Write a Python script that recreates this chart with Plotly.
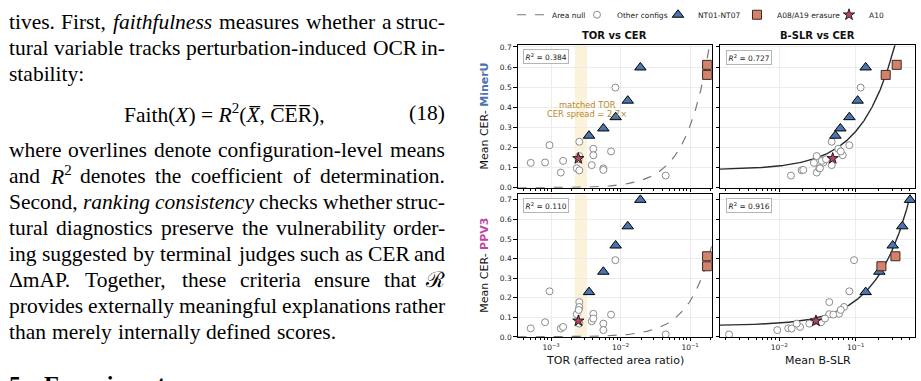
import numpy as np
import plotly.graph_objects as go

W, H = 921, 381

# ---------------- data ----------------
# "Other configs" (shared TOR, engine-specific CER and B-SLR)
tor_other = [0.00051, 0.00082, 0.00095, 0.00138, 0.00149, 0.00234, 0.00255, 0.00255, 0.00255,
             0.00385, 0.00406, 0.00406, 0.00566, 0.00566, 0.0073, 0.00843, 0.0447, 0.00250]
cer_mineru_other = [0.124, 0.126, 0.212, 0.076, 0.134, 0.097, 0.229, 0.158, 0.087,
                    0.113, 0.194, 0.162, 0.097, 0.089, 0.181, 0.498, 0.061, 0.142]
cer_ppv3_other = [0.044, 0.075, 0.233, 0.043, 0.051, 0.116, 0.178, 0.153, 0.068,
                  0.080, 0.118, 0.094, 0.068, 0.035, 0.114, 0.392, 0.013, 0.138]
bslr_mineru_other = [0.0284, 0.0377, 0.0825, 0.0309, 0.0359, 0.0334, 0.0485, 0.0309, 0.0196,
                     0.0485, 0.0592, 0.0676, 0.0340, 0.0206, 0.0637, 0.116, 0.0142, 0.0409]
bslr_ppv3_other = [0.0131, 0.0352, 0.0825, 0.0145, 0.0187, 0.0451, 0.0451, 0.0703, 0.0169,
                   0.0290, 0.0604, 0.0396, 0.0247, 0.0094, 0.0509, 0.0950, 0.0022, 0.0637]

# NT01-NT07
tor_nt = [0.00352, 0.00566, 0.0085, 0.0127, 0.0193]
cer_mineru_nt = [0.259, 0.295, 0.351, 0.433, 0.598]
cer_ppv3_nt = [0.229, 0.333, 0.467, 0.565, 0.700]
bslr_mineru_nt = [0.0542, 0.0630, 0.0826, 0.106, 0.135]
bslr_ppv3_nt = [0.135, 0.204, 0.305, 0.407, 0.514]

# A08/A19 erasure
tor_er = [0.176, 0.176]
cer_mineru_er = [0.611, 0.561]
cer_ppv3_er = [0.412, 0.361]
bslr_mineru_er = [0.344, 0.247]
bslr_ppv3_er = [0.331, 0.217]

# A10
tor_a10 = [0.00247]
cer_mineru_a10 = [0.146]
cer_ppv3_a10 = [0.082]
bslr_mineru_a10 = [0.050]
bslr_ppv3_a10 = [0.0302]

# model curves / stats
null_coef = {"MinerU": (6.1, 1.3), "PPV3": (3.64, 1.3)}       # area null: CER = c * TOR^p
fit_coef = {"MinerU": (0.09, 1.9), "PPV3": (0.058, 1.28)}    # CER = a + b * B-SLR
r2_tor = {"MinerU": "0.384", "PPV3": "0.110"}
r2_bslr = {"MinerU": "0.727", "PPV3": "0.916"}
tor_band = [0.0022, 0.0033]
ytick_vals = [0, 0.1, 0.2, 0.3, 0.4, 0.5, 0.6, 0.7]

# ---------------- styling ----------------
C_TRI = "#4a76b0"
C_SQ = "#d6826a"
C_STAR = "#b5475c"
C_MINERU = "#4c72b0"
C_PPV3 = "#c2469f"
C_ANN = "#b8862b"
SANS = "DejaVu Sans"
SERIF = "Liberation Serif"

XL = (517.7, 711.7)
XR = (720.0, 915.0)
YT = (42.3, 188.3)
YB = (195.0, 341.0)
xr_tor = [-3.48, -0.688]
xr_bslr = [-2.776, -0.224]
yr = {"MinerU": [0, 0.708], "PPV3": [0, 0.728]}


def px(x):
    return x / W


def py(y):
    return 1 - y / H


def dom_x(a):
    return [a[0] / W, a[1] / W]


def dom_y(a):
    return [1 - a[1] / H, 1 - a[0] / H]


fig = go.Figure()

data = {
    "MinerU": dict(cer_o=cer_mineru_other, bslr_o=bslr_mineru_other, cer_nt=cer_mineru_nt,
                   bslr_nt=bslr_mineru_nt, cer_er=cer_mineru_er, bslr_er=bslr_mineru_er,
                   cer_a=cer_mineru_a10, bslr_a=bslr_mineru_a10),
    "PPV3": dict(cer_o=cer_ppv3_other, bslr_o=bslr_ppv3_other, cer_nt=cer_ppv3_nt,
                 bslr_nt=bslr_ppv3_nt, cer_er=cer_ppv3_er, bslr_er=bslr_ppv3_er,
                 cer_a=cer_ppv3_a10, bslr_a=bslr_ppv3_a10),
}

panels = [  # (axis suffix, engine, kind)
    ("", "MinerU", "tor"),
    ("2", "MinerU", "bslr"),
    ("3", "PPV3", "tor"),
    ("4", "PPV3", "bslr"),
]

first = True
for suf, eng, kind in panels:
    d = data[eng]
    xa, ya = "x" + suf, "y" + suf
    if kind == "tor":
        c, p = null_coef[eng]
        xg = np.logspace(xr_tor[0], xr_tor[1], 400)
        fig.add_trace(go.Scatter(x=xg, y=c * xg ** p, mode="lines",
                                 line=dict(color="#777777", width=1.2, dash="dash"),
                                 name="Area null", xaxis=xa, yaxis=ya,
                                 showlegend=first, legend="legend", hoverinfo="skip"))
        xo, xn, xe, xs = tor_other, tor_nt, tor_er, tor_a10
    else:
        a, b = fit_coef[eng]
        xg = np.logspace(xr_bslr[0], xr_bslr[1], 400)
        fig.add_trace(go.Scatter(x=xg, y=a + b * xg, mode="lines",
                                 line=dict(color="#2b2b2b", width=1.4),
                                 showlegend=False, xaxis=xa, yaxis=ya, hoverinfo="skip"))
        xo, xn, xe, xs = d["bslr_o"], d["bslr_nt"], d["bslr_er"], d["bslr_a"]
    fig.add_trace(go.Scatter(x=xo, y=d["cer_o"], mode="markers", name="Other configs",
                             marker=dict(symbol="circle", size=7, color="white",
                                         line=dict(color="#8c8c8c", width=1)),
                             xaxis=xa, yaxis=ya, showlegend=first, legend="legend2"))
    fig.add_trace(go.Scatter(x=xn, y=d["cer_nt"], mode="markers", name="NT01-NT07",
                             marker=dict(symbol="triangle-up", size=10, color=C_TRI,
                                         line=dict(color="black", width=1)),
                             xaxis=xa, yaxis=ya, showlegend=first, legend="legend3"))
    fig.add_trace(go.Scatter(x=xe, y=d["cer_er"], mode="markers", name="A08/A19 erasure",
                             marker=dict(symbol="square", size=9, color=C_SQ,
                                         line=dict(color="#3a2a25", width=1)),
                             xaxis=xa, yaxis=ya, showlegend=first, legend="legend4"))
    fig.add_trace(go.Scatter(x=xs, y=d["cer_a"], mode="markers", name="A10",
                             marker=dict(symbol="star", size=8.5, color=C_STAR,
                                         line=dict(color="black", width=0.8)),
                             xaxis=xa, yaxis=ya, showlegend=first, legend="legend5"))
    first = False


def minor_vals(lo, hi):
    out = []
    for dec in range(-5, 1):
        for m in range(2, 10):
            v = m * 10.0 ** dec
            if 10 ** lo <= v <= 10 ** hi:
                out.append(v)
    return out


def dec_vals(lo, hi):
    return [10.0 ** k for k in range(-5, 1) if lo <= k <= hi]


def dec_text(vals):
    return ["10<sup>\u2212%d</sup>" % round(-np.log10(v)) for v in vals]


axis_common = dict(showline=True, linecolor="black", linewidth=1, mirror=True,
                   ticks="outside", ticklen=3.5, tickwidth=0.8, tickcolor="black",
                   showgrid=True, gridcolor="#ececec", gridwidth=0.6, zeroline=False,
                   tickfont=dict(family=SANS, size=7.5, color="#222222"))

for suf, eng, kind in panels:
    xr = xr_tor if kind == "tor" else xr_bslr
    xdom = XL if kind == "tor" else XR
    ydom = YT if eng == "MinerU" else YB
    dv = dec_vals(*xr)
    fig.layout["xaxis" + suf] = dict(
        type="log", range=xr, domain=dom_x(xdom), anchor="y" + suf,
        tickmode="array", tickvals=dv, ticktext=dec_text(dv),
        showticklabels=(eng == "PPV3"),
        minor=dict(tickmode="array", tickvals=minor_vals(*xr), ticks="outside",
                   ticklen=2, tickwidth=0.6, tickcolor="black", showgrid=False),
        **axis_common)
    fig.layout["yaxis" + suf] = dict(
        range=yr[eng], domain=dom_y(ydom), anchor="x" + suf,
        tickmode="array", tickvals=ytick_vals, ticktext=["%.1f" % v for v in ytick_vals],
        showticklabels=(kind == "tor"), **axis_common)

# band (matched TOR)
for xa, ya in (("x", "y"), ("x3", "y3")):
    fig.add_shape(type="rect", xref=xa, yref=ya + " domain", x0=tor_band[0], x1=tor_band[1],
                  y0=0, y1=1, fillcolor="#f2dc92", opacity=0.35, line=dict(width=0),
                  layer="below")

annotations = []


def ann(x, y, text, size, family=SANS, color="#111111", xanchor="center",
        yanchor="middle", **kw):
    annotations.append(dict(x=px(x), y=py(y), xref="paper", yref="paper", text=text,
                            showarrow=False, xanchor=xanchor, yanchor=yanchor,
                            font=dict(family=family, size=size, color=color),
                            borderpad=0, **kw))


# subplot titles
ann(614.7, 32.3, "<b>TOR vs CER</b>", 10)
ann(817.5, 32.3, "<b>B-SLR vs CER</b>", 10)
# x titles
ann(614.7, 365, "TOR (affected area ratio)", 11)
ann(817.5, 365, "Mean B-SLR", 11)
# y titles
ann(485, 115.3, "Mean CER- <b><span style='color:%s'>MinerU</span></b>" % C_MINERU, 11,
    textangle=-90)
ann(485, 268, "Mean CER- <b><span style='color:%s'>PPV3</span></b>" % C_PPV3, 11,
    textangle=-90)
# R^2 boxes
for (xx, yy), txt in (((523, 53.3), r2_tor["MinerU"]), ((725.5, 54.3), r2_bslr["MinerU"]),
                      ((523, 206.3), r2_tor["PPV3"]), ((725.5, 206.3), r2_bslr["PPV3"])):
    annotations.append(dict(x=px(xx), y=py(yy), xref="paper", yref="paper",
                            text="<i>R</i><sup>2</sup> = " + txt, showarrow=False,
                            xanchor="left", yanchor="middle",
                            font=dict(family=SANS, size=7.5, color="#222222"),
                            bgcolor="white", bordercolor="#b5b5b5", borderwidth=1,
                            borderpad=1.5))
# matched TOR note
ann(587.3, 103.3, "matched TOR", 8.3, color=C_ANN)
ann(586.7, 112.3, "CER spread = 2.7\u00d7", 8.3, color=C_ANN)

# ---------------- left page text (justified) ----------------
TR = dict(zip(" abcdefghijklmnopqrstuvwxyz", [250, 444, 500, 444, 500, 444, 333, 500, 500, 278, 278,
                                               500, 278, 778, 500, 500, 500, 500, 333, 389, 278, 500,
                                               500, 722, 500, 500, 444]))
TR.update(dict(zip("ABCDEFGHIJKLMNOPQRSTUVWXYZ", [722, 667, 667, 722, 611, 556, 722, 722, 333, 389,
                                                   722, 611, 889, 722, 722, 556, 722, 667, 556, 611,
                                                   722, 722, 944, 722, 722, 611])))
TR.update({".": 250, ",": 250, "-": 333, ":": 278, "(": 333, ")": 333, "\u0394": 612,
           "\u211b": 800})
TI = dict(zip("abcdefghijklmnopqrstuvwxyz", [500, 500, 444, 500, 444, 278, 500, 500, 278, 278, 444,
                                              278, 722, 500, 500, 500, 500, 389, 389, 278, 500, 444,
                                              667, 444, 444, 389]))
TI.update({"R": 611, ",": 250, ".": 250})

FS = 21.5
WFAC = 1.012
LEFT, RIGHT = 8.0, 446.0
BASE_K = 7.3

page_lines = [
    ("tives. First, *faithfulness* measures whether a struc-", 26.0, True),
    ("tural variable tracks perturbation-induced OCR in-", 52.6, True),
    ("stability:", 79.2, False),
    ("where overlines denote configuration-level means", 156.7, True),
    ("and R^2 denotes the coefficient of determination.", 183.3, True),
    ("Second, *ranking consistency* checks whether struc-", 210.0, True),
    ("tural diagnostics preserve the vulnerability order-", 236.6, True),
    ("ing suggested by terminal judges such as CER and", 263.2, True),
    ("\u0394mAP. Together, these criteria ensure that \u211b", 289.8, True),
    ("provides externally meaningful explanations rather", 316.4, True),
    ("than merely internally defined scores.", 343.0, False),
]


def word_info(tok, italic):
    if tok == "R^2":
        return "<i>R</i><sup>2</sup>", (TI["R"] + 0.7 * 500) * FS / 1000 * WFAC
    tbl = TI if italic else TR
    w = sum(tbl.get(ch, TR.get(ch, 500)) for ch in tok) * FS / 1000 * WFAC
    html = "<i>%s</i>" % tok if italic else tok
    return html, w


for text, base, justify in page_lines:
    words = []
    ital = False
    for raw in text.split(" "):
        t = raw
        if t.startswith("*"):
            ital = True
            t = t[1:]
        end_i = t.endswith("*")
        if end_i:
            t = t[:-1]
        words.append(word_info(t, ital))
        if end_i:
            ital = False
    total = sum(w for _, w in words)
    n = len(words)
    gap = (RIGHT - LEFT - total) / (n - 1) if (justify and n > 1) else 250 * FS / 1000
    xcur = LEFT
    for i, (html, w) in enumerate(words):
        if justify and i == n - 1 and n > 1:
            ann(RIGHT, base - BASE_K, html, FS, family=SERIF, color="black", xanchor="right")
        else:
            ann(xcur, base - BASE_K, html, FS, family=SERIF, color="black", xanchor="left")
        xcur += w + gap

# equation (18)
ann(224, 119.3 - BASE_K,
    "Faith(<i>X</i>) = <i>R</i><sup>2</sup>(<i>X\u0305</i>, C\u0305E\u0305R\u0305),",
    FS, family=SERIF, color="black")
ann(RIGHT, 119.3 - BASE_K, "(18)", FS, family=SERIF, color="black", xanchor="right")
# section heading (cut off at bottom)
ann(8, 389, "<b>5</b>", 24, family=SERIF, color="black", xanchor="left")
ann(43, 389, "<b>Experiments</b>", 24, family=SERIF, color="black", xanchor="left")

fig.update_layout(annotations=annotations)

# ---------------- legends (one per entry, placed along the top) ----------------
leg_left = [512, 577, 658, 737, 829]
leg_names = ["legend", "legend2", "legend3", "legend4", "legend5"]
for name, lx in zip(leg_names, leg_left):
    fig.layout[name] = dict(x=px(lx), y=py(11), xanchor="left", yanchor="middle",
                            orientation="h", bgcolor="rgba(0,0,0,0)", borderwidth=0,
                            font=dict(family=SANS, size=7.5, color="#222222"),
                            itemwidth=30)

fig.update_layout(width=W, height=H, margin=dict(l=0, r=0, t=0, b=0),
                  paper_bgcolor="white", plot_bgcolor="white", showlegend=True)

fig.write_html("out.html")
